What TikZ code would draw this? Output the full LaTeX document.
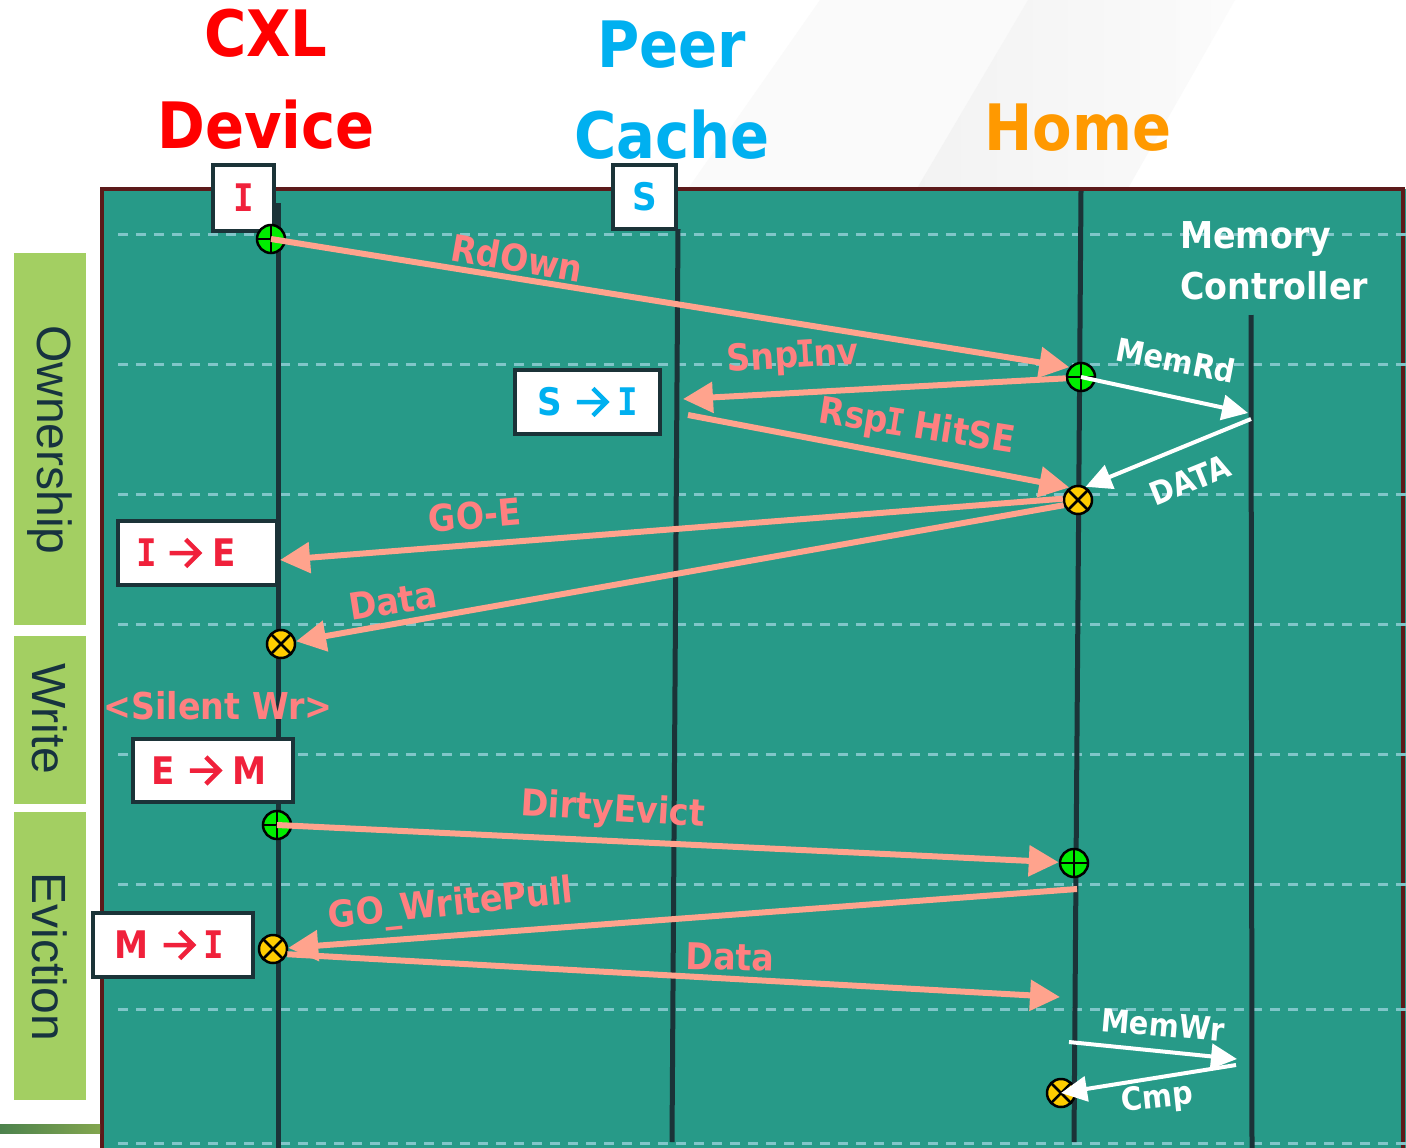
\documentclass[tikz,border=0pt]{standalone}
\usepackage{fontspec}
\usetikzlibrary{arrows.meta}
\newfontfamily\lblfont[FakeStretch=0.9]{DejaVu Sans}
\newfontfamily\slabfont[FakeStretch=0.9]{DejaVu Sans Mono}
\newfontfamily\phasefont{Liberation Sans}

% slab-serif capital I, as in the original typeface
\newcommand\slabI{{\kern-0.07em\slabfont I\kern-0.07em}}
% chevron arrow used inside the state boxes
\newcommand\chevarrow{\tikz[baseline=0pt, x=1pt, y=1pt, line width=4.5pt,
  line cap=butt, line join=miter]
  \draw (0,13.5) -- (29,13.5) (16,27) -- (29.5,13.5) -- (16,0);}

\definecolor{panelteal}{HTML}{279A88}
\definecolor{panelrim}{HTML}{5C1A1A}
\definecolor{lifedark}{HTML}{1B3338}
\definecolor{gridblue}{HTML}{80C6C9}
\definecolor{phasegreen}{HTML}{A3CF62}
\definecolor{phasetext}{HTML}{17333F}
\definecolor{msgline}{HTML}{FFA38D}
\definecolor{msgtext}{HTML}{FF8080}
\definecolor{cxlred}{HTML}{FF0000}
\definecolor{statered}{HTML}{F0213B}
\definecolor{peercyan}{HTML}{00B0F0}
\definecolor{homeorange}{HTML}{FF9900}
\definecolor{markgreen}{HTML}{00EE00}
\definecolor{markyellow}{HTML}{FFCC00}

\tikzset{
  lifeline/.style={draw=lifedark, line width=5pt},
  gridline/.style={draw=gridblue, line width=3pt, dash pattern=on 10pt off 8pt},
  phasebox/.style={fill=phasegreen},
  phaselabel/.style={text=phasetext, rotate=-90, inner sep=0pt,
    font=\phasefont\fontsize{48}{48}\selectfont},
  header/.style={anchor=base, inner sep=0pt,
    font=\lblfont\bfseries\fontsize{64}{64}\selectfont},
  statebox/.style={draw=lifedark, line width=3.5pt, fill=white, inner sep=0pt,
    font=\lblfont\bfseries\fontsize{38}{38}\selectfont},
  msg/.style={draw=msgline, line width=6pt, -{Triangle[length=30pt,width=30pt]}},
  reply/.style={draw=white, line width=4pt, -{Triangle[length=26pt,width=25pt]}},
  msglabel/.style={text=msgtext, inner sep=0pt,
    font=\lblfont\bfseries\fontsize{37}{37}\selectfont},
  wlabel/.style={text=white, inner sep=0pt,
    font=\lblfont\bfseries\fontsize{32}{32}\selectfont},
  markgo/.style={circle, draw=black, line width=2.5pt, fill=markgreen,
    minimum size=28pt, inner sep=0pt,
    path picture={\draw[black, line width=2.5pt]
      (path picture bounding box.north) -- (path picture bounding box.south)
      (path picture bounding box.west) -- (path picture bounding box.east);}},
  markend/.style={circle, draw=black, line width=2.5pt, fill=markyellow,
    minimum size=28pt, inner sep=0pt,
    path picture={\draw[black, line width=2.5pt]
      (path picture bounding box.north west) -- (path picture bounding box.south east)
      (path picture bounding box.north east) -- (path picture bounding box.south west);}},
}

\begin{document}
\begin{tikzpicture}[x=1pt, y=-1pt]
\useasboundingbox (0,0) rectangle (1406,1148);

% faint slanted bands behind the headers
\fill[white] (0,0) rectangle (1406,1148);
\fill[gray!4] (820,0) -- (1028,0) -- (916,190) -- (687,190) -- cycle;
\shade[left color=gray!10, right color=gray!3, shading angle=90]
  (1028,0) -- (1235,0) -- (1127,190) -- (916,190) -- cycle;

% teal swimlane panel
\fill[panelteal] (102,189) rectangle (1406,1148);
\draw[panelrim, line width=4pt] (102,1148) -- (102,189) -- (1403,189) -- (1403,1148);

% small gradient bar at the lower left
\shade[left color=green!30!black!70, right color=phasegreen!80!black] (0,1124) rectangle (100,1133);

% phase tags
\fill[phasebox] (14,253) rectangle (86,625);
\fill[phasebox] (14,636) rectangle (86,804);
\fill[phasebox] (14,812) rectangle (86,1100);
\node[phaselabel] (own) at (50,440) {Ownership};
\node[phaselabel] (wr) at (50,719) {Write};
\node[phaselabel] (ev) at (50,957) {Eviction};

% time grid
\foreach \gy in {234,364,494,624,754,884,1009,1143}
  \draw[gridline] (118,\gy) -- (1406,\gy);

% lifelines
\coordinate (dTop) at (278,203);
\coordinate (dBot) at (278,1148);
\coordinate (pTop) at (678,229);
\coordinate (pBot) at (672,1142);
\coordinate (hTop) at (1081,191);
\coordinate (hBot) at (1074,1142);
\coordinate (mTop) at (1251,315);
\coordinate (mBot) at (1252,1148);
\draw[lifeline] (dTop) -- (dBot);
\draw[lifeline] (pTop) -- (pBot);
\draw[lifeline] (hTop) -- (hBot);
\draw[lifeline] (mTop) -- (mBot);

% agent headers
\node[header, text=cxlred] (cxl) at (266,57) {CXL};
\node[header, text=cxlred] (dev) at (266,148) {Device};
\node[header, text=peercyan] (peer) at (672,68) {Peer};
\node[header, text=peercyan] (cache) at (672,158) {Cache};
\node[header, text=homeorange] (home) at (1078,150) {Home};
\node[wlabel, anchor=base west, font=\lblfont\bfseries\fontsize{37}{37}\selectfont] (mem1) at (1180,248) {Memory};
\node[wlabel, anchor=base west, font=\lblfont\bfseries\fontsize{37}{37}\selectfont] (mem2) at (1180,299) {Controller};

% cache-line states
\node[statebox, minimum width=61pt, minimum height=66pt, text=statered] (sI) at (243.5,198) {\slabI};
\node[statebox, minimum width=63pt, minimum height=64pt, text=peercyan] (sS) at (644.5,197) {S};
\node[statebox, minimum width=145pt, minimum height=64pt, text=peercyan] (sSI) at (587.5,402) {S\hspace{13pt}\chevarrow\hspace{11pt}\slabI\hspace*{3pt}};
\node[statebox, minimum width=159pt, minimum height=64pt, text=statered] (sIE) at (197.5,553) {\slabI\hspace{13pt}\chevarrow\hspace{11pt}E\hspace*{20pt}};
\node[statebox, minimum width=160pt, minimum height=63pt, text=statered] (sEM) at (213,770.5) {E\hspace{13pt}\chevarrow\hspace{11pt}M\hspace*{8pt}};
\node[statebox, minimum width=160pt, minimum height=64pt, text=statered] (sMI) at (173,945) {M\hspace{13pt}\chevarrow\hspace{11pt}\slabI\hspace*{10pt}};

% transaction start / end markers
\node[markgo]  (m1) at (271,239) {};
\node[markgo]  (m2) at (1081,377) {};
\node[markend] (m3) at (1078,500) {};
\node[markend] (m4) at (281,644) {};
\node[markgo]  (m5) at (277,825) {};
\node[markgo]  (m6) at (1074,863) {};
\node[markend] (m7) at (273,949) {};
\node[markend] (m8) at (1061,1093) {};

% free message ends
\coordinate (snpTip) at (683,399);
\coordinate (rspStart) at (688,415);
\coordinate (mrdTip) at (1248,413);
\coordinate (dataStart) at (1251,419);
\coordinate (goeTip) at (280,560);
\coordinate (gwpStart) at (1077,889);
\coordinate (d2Tip) at (1060,997);
\coordinate (mwrStart) at (1069,1042);
\coordinate (mwrTip) at (1237,1059);
\coordinate (cmpStart) at (1236,1065);

% ownership flow
\draw[msg] (m1.center) -- (m2.140);
\draw[msg] (m2.185) -- (snpTip);
\draw[msg] (rspStart) -- (m3.125);
\draw[reply] (m2.center) -- (mrdTip);
\draw[reply] (dataStart) -- (m3.60);
\draw[msg] (m3.175) -- (goeTip);
\draw[msg] (m3.200) -- (m4);

% eviction flow
\draw[msg] (m5.center) -- (m6);
\draw[msg] (gwpStart) -- (m7);
\draw[msg] (m7.-20) -- (d2Tip);
\draw[reply] (mwrStart) -- (mwrTip);
\draw[reply] (cmpStart) -- (m8.center);

% message names
\node[msglabel, rotate=-10] (lRd) at (517,258) {RdOwn};
\node[msglabel, rotate=3.5] (lSnp) at (793,358) {Snp\slabI nv};
\node[msglabel, rotate=-9] (lRsp) at (917,428) {Rsp\slabI{} HitSE};
\node[wlabel, rotate=-11] (lMrd) at (1176,360) {MemRd};
\node[wlabel, rotate=22] (lDat) at (1190,480) {DATA};
\node[msglabel, rotate=5] (lGoe) at (475,515) {GO-E};
\node[msglabel, rotate=9] (lD1) at (393,601) {Data};
\node[msglabel] (lSil) at (218,706) {<Silent Wr>};
\node[msglabel, rotate=-3.5] (lDe) at (613,811) {DirtyEvict};
\node[msglabel, rotate=6] (lGwp) at (451,906) {GO\_WritePull};
\node[msglabel, rotate=-1.5] (lD2) at (730,957) {Data};
\node[wlabel, rotate=-5] (lMwr) at (1163,1025) {MemWr};
\node[wlabel, rotate=6] (lCmp) at (1157,1099) {Cmp};
\end{tikzpicture}
\end{document}
